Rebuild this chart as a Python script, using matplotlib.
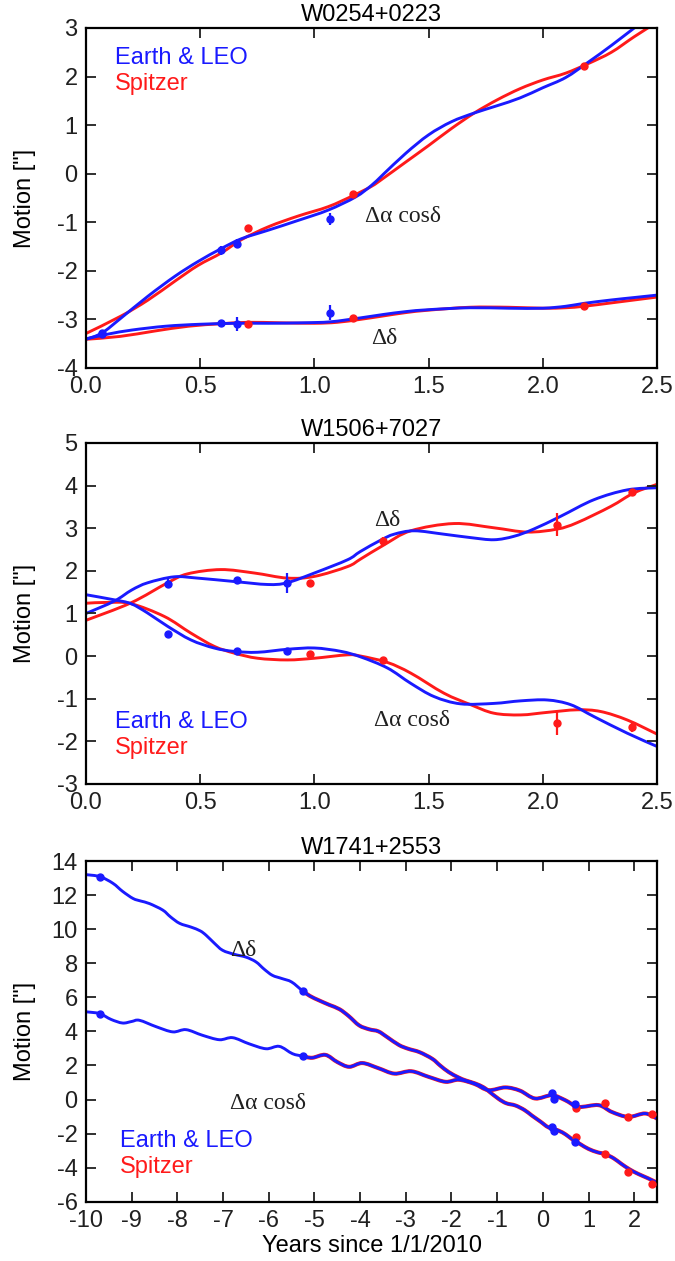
import numpy as np
import matplotlib
matplotlib.use("Agg")
import matplotlib.pyplot as plt
from matplotlib.path import Path
from matplotlib.patches import PathPatch

# ---- W0254+0223 -------------------------------------------------------------
w0254_blue_ra_t = [0.0, 0.07, 0.154, 0.272, 0.39, 0.49, 0.593, 0.68, 0.8, 0.93, 1.06, 1.18,
                   1.25, 1.3, 1.4, 1.5, 1.6, 1.7, 1.8, 1.9, 2.0, 2.1, 2.2, 2.3, 2.4, 2.5]
w0254_blue_ra = [-3.41, -3.28, -2.97, -2.52, -2.11, -1.81, -1.54, -1.34, -1.16, -0.96, -0.75, -0.48,
                 -0.24, -0.02, 0.42, 0.80, 1.07, 1.25, 1.40, 1.56, 1.77, 1.98, 2.30, 2.64, 3.0, 3.35]
w0254_red_ra_t = [0.0, 0.154, 0.272, 0.39, 0.49, 0.593, 0.68, 0.8, 0.93, 1.06, 1.17, 1.25,
                  1.3, 1.4, 1.5, 1.6, 1.7, 1.8, 1.9, 2.0, 2.1, 2.2, 2.3, 2.4, 2.5]
w0254_red_ra = [-3.29, -2.93, -2.60, -2.21, -1.89, -1.63, -1.36, -1.09, -0.87, -0.68, -0.45, -0.26,
                -0.10, 0.24, 0.58, 0.93, 1.25, 1.52, 1.75, 1.93, 2.07, 2.27, 2.50, 2.82, 3.12]
w0254_blue_dec_t = [0.0, 0.1, 0.2, 0.35, 0.5, 0.66, 0.8, 0.95, 1.07, 1.2, 1.3, 1.4, 1.5,
                    1.68, 1.85, 2.0, 2.1, 2.18, 2.3, 2.4, 2.5]
w0254_blue_dec = [-3.40, -3.30, -3.22, -3.14, -3.10, -3.08, -3.08, -3.07, -3.05, -2.97, -2.90, -2.84,
                  -2.80, -2.76, -2.77, -2.77, -2.73, -2.67, -2.60, -2.55, -2.50]
w0254_red_dec_t = [0.0, 0.15, 0.3, 0.45, 0.59, 0.71, 0.85, 1.0, 1.1, 1.2, 1.3, 1.4, 1.5,
                   1.68, 1.85, 2.0, 2.1, 2.18, 2.3, 2.4, 2.5]
w0254_red_dec = [-3.41, -3.35, -3.24, -3.14, -3.09, -3.06, -3.07, -3.08, -3.06, -3.00, -2.93, -2.86,
                 -2.81, -2.75, -2.75, -2.77, -2.76, -2.73, -2.66, -2.60, -2.54]

w0254_blue_pt_t = [0.07, 0.59, 0.66, 1.07]
w0254_blue_pt_ra = [-3.28, -1.58, -1.44, -0.93]
w0254_blue_pt_ra_err = [0.05, 0.09, 0.10, 0.13]
w0254_blue_pt_dec = [-3.30, -3.07, -3.10, -2.86]
w0254_blue_pt_dec_err = [0.05, 0.04, 0.14, 0.16]
w0254_red_pt_t = [0.71, 1.17, 2.18]
w0254_red_pt_ra = [-1.12, -0.42, 2.22]
w0254_red_pt_ra_err = [0.07, 0.04, 0.04]
w0254_red_pt_dec = [-3.10, -2.97, -2.73]
w0254_red_pt_dec_err = [0.04, 0.04, 0.04]

# ---- W1506+7027 -------------------------------------------------------------
w1506_blue_dec_t = [0.0, 0.124, 0.2, 0.27, 0.386, 0.488, 0.649, 0.795, 0.88, 1.0, 1.145, 1.2,
                    1.29, 1.349, 1.437, 1.567, 1.684, 1.786, 1.873, 1.96, 2.078, 2.224, 2.37, 2.5]
w1506_blue_dec = [1.00, 1.29, 1.55, 1.72, 1.86, 1.83, 1.75, 1.68, 1.72, 1.95, 2.26, 2.45,
                  2.72, 2.86, 2.94, 2.86, 2.78, 2.73, 2.81, 2.98, 3.28, 3.67, 3.90, 3.95]
w1506_red_dec_t = [0.0, 0.197, 0.357, 0.445, 0.59, 0.736, 0.882, 1.0, 1.145, 1.203, 1.305, 1.422,
                   1.611, 1.786, 1.932, 2.063, 2.15, 2.297, 2.399, 2.5]
w1506_red_dec = [0.84, 1.25, 1.72, 1.93, 2.03, 1.95, 1.83, 1.87, 2.10, 2.28, 2.61, 2.94,
                 3.11, 3.01, 2.91, 2.98, 3.13, 3.51, 3.83, 4.03]
w1506_blue_ra_t = [0.0, 0.124, 0.197, 0.27, 0.357, 0.459, 0.561, 0.649, 0.751, 0.882, 1.0, 1.117,
                   1.203, 1.32, 1.422, 1.524, 1.64, 1.786, 1.903, 2.02, 2.122, 2.224, 2.37, 2.5]
w1506_blue_ra = [1.44, 1.32, 1.23, 1.01, 0.70, 0.38, 0.19, 0.11, 0.09, 0.16, 0.19, 0.11,
                 -0.02, -0.28, -0.64, -0.95, -1.12, -1.11, -1.05, -1.03, -1.14, -1.42, -1.81, -2.12]
w1506_red_ra_t = [0.0, 0.095, 0.197, 0.343, 0.459, 0.561, 0.649, 0.751, 0.882, 1.0, 1.145, 1.203,
                  1.32, 1.422, 1.567, 1.684, 1.786, 1.903, 2.02, 2.15, 2.253, 2.37, 2.5]
w1506_red_ra = [1.24, 1.26, 1.23, 0.93, 0.54, 0.23, 0.07, -0.05, -0.09, -0.05, 0.03, 0.0,
                -0.15, -0.40, -0.87, -1.14, -1.34, -1.38, -1.32, -1.26, -1.30, -1.50, -1.83]

w1506_blue_pt_t = [0.36, 0.66, 0.88]
w1506_blue_pt_dec = [1.70, 1.79, 1.72]
w1506_blue_pt_dec_err = [0.10, 0.06, 0.23]
w1506_blue_pt_ra = [0.52, 0.13, 0.12]
w1506_blue_pt_ra_err = [0.05, 0.05, 0.08]
w1506_red_pt_t = [0.98, 1.30, 2.06, 2.39]
w1506_red_pt_dec = [1.72, 2.71, 3.08, 3.85]
w1506_red_pt_dec_err = [0.04, 0.08, 0.27, 0.08]
w1506_red_pt_ra = [0.04, -0.09, -1.58, -1.67]
w1506_red_pt_ra_err = [0.05, 0.05, 0.28, 0.10]

# ---- W1741+2553 -------------------------------------------------------------
w1741_dec_t = [-10.0, -9.69, -9.41, -9.2, -8.97, -8.8, -8.61, -8.32, -8.15, -7.95, -7.7, -7.5,
               -7.37, -7.2, -7.01, -6.75, -6.5, -6.28, -6.1, -5.92, -5.71, -5.5, -5.26, -5.1,
               -4.9, -4.67, -4.45, -4.25, -4.02, -3.8, -3.6, -3.4, -3.15, -2.95, -2.7, -2.42,
               -2.25, -2.06, -1.85, -1.69, -1.48, -1.3, -1.19, -0.97, -0.8, -0.6, -0.4, -0.24,
               -0.05, 0.12, 0.34, 0.5, 0.63, 0.82, 1.0, 1.2, 1.36, 1.55, 1.72, 1.9, 2.09, 2.3, 2.5]
w1741_dec = [13.20, 13.08, 12.69, 12.22, 11.80, 11.65, 11.50, 11.12, 10.72, 10.34, 10.12, 9.90,
             9.64, 9.20, 8.76, 8.52, 8.36, 8.08, 7.65, 7.29, 7.10, 6.90, 6.38, 6.08,
             5.82, 5.55, 5.30, 4.90, 4.35, 4.12, 4.00, 3.65, 3.20, 2.98, 2.78, 2.39,
             2.00, 1.61, 1.30, 1.12, 0.94, 0.72, 0.50, 0.04, -0.22, -0.35, -0.62, -0.94,
             -1.30, -1.63, -1.82, -2.05, -2.31, -2.62, -2.90, -3.10, -3.20, -3.45, -3.78, -4.10,
             -4.37, -4.62, -4.88]
w1741_ra_t = [-10.0, -9.7, -9.45, -9.2, -9.0, -8.83, -8.46, -8.1, -7.81, -7.45, -7.08, -6.79,
              -6.43, -6.06, -5.77, -5.48, -5.26, -5.05, -4.76, -4.5, -4.24, -3.95, -3.6, -3.25,
              -2.88, -2.5, -2.13, -1.84, -1.5, -1.19, -0.82, -0.5, -0.17, 0.2, 0.49, 0.78,
              1.22, 1.51, 1.87, 2.24, 2.5]
w1741_ra = [5.15, 5.04, 4.70, 4.49, 4.58, 4.65, 4.27, 3.97, 4.10, 3.77, 3.51, 3.63,
            3.27, 2.98, 3.12, 2.69, 2.55, 2.45, 2.62, 2.20, 1.92, 2.14, 1.84, 1.52,
            1.66, 1.33, 1.04, 1.16, 0.92, 0.55, 0.71, 0.52, 0.06, 0.25, -0.04, -0.43,
            -0.33, -0.73, -1.02, -0.82, -1.12]
w1741_red_start = -5.3   # Spitzer model only visible from here on

w1741_blue_pt_t = [-9.69, -5.26, 0.20, 0.25, 0.70]
w1741_blue_pt_dec = [13.08, 6.35, -1.62, -1.85, -2.50]
w1741_blue_pt_ra = [5.02, 2.55, 0.38, 0.05, -0.28]
w1741_blue_pt_err = [0.15, 0.15, 0.15, 0.15, 0.15]
w1741_red_pt_t = [0.72, 1.37, 1.87, 2.38]
w1741_red_pt_dec = [-2.20, -3.20, -4.25, -4.95]
w1741_red_pt_ra = [-0.47, -0.20, -1.05, -0.87]
w1741_red_pt_err = [0.12, 0.12, 0.12, 0.12]

BLUE = (0.1, 0.1, 1.0)
RED = (1.0, 0.1, 0.1)
SANS = ['Liberation Sans', 'DejaVu Sans']
SERIF = ['Liberation Serif', 'DejaVu Serif']
FS = 17

plt.rcParams['font.family'] = SANS
plt.rcParams['axes.unicode_minus'] = False


def style_axes(ax, title):
    ax.set_title(title, fontsize=FS, pad=5)
    ax.set_ylabel('Motion ["]', fontsize=FS)
    ax.yaxis.set_label_coords(-0.088, 0.5)
    ax.tick_params(direction='in', length=7.5, width=1.3, labelsize=FS,
                   top=True, right=True, pad=6, colors='#202020')
    for s in ax.spines.values():
        s.set_linewidth(1.6)


def curve(ax, t, v, color, lw=2.1):
    # smooth line through the read-off points (Catmull-Rom as cubic Bezier segments)
    p = np.column_stack([t, v]).astype(float)
    n = len(p)
    verts = [p[0]]
    codes = [Path.MOVETO]
    for i in range(n - 1):
        p0 = p[i - 1] if i > 0 else p[i]
        p3 = p[i + 2] if i + 2 < n else p[i + 1]
        verts += [p[i] + (p[i + 1] - p0) / 6.0, p[i + 1] - (p3 - p[i]) / 6.0, p[i + 1]]
        codes += [Path.CURVE4] * 3
    ax.add_patch(PathPatch(Path(verts, codes), fill=False, edgecolor=color, lw=lw,
                           capstyle='round', joinstyle='round'))


def points(ax, t, v, err, color):
    ax.errorbar(t, v, yerr=err, fmt='o', ms=5, color=color, elinewidth=1.6,
                capsize=0, zorder=5)


def legend_text(ax, x, y):
    ax.text(x, y, 'Earth & LEO', color=BLUE, fontsize=FS, transform=ax.transAxes)
    ax.text(x, y - 0.077, 'Spitzer', color=RED, fontsize=FS, transform=ax.transAxes)


def label(ax, x, y, s):
    ax.text(x, y, s, fontsize=FS, family=SERIF, color='#202020')


fig = plt.figure(figsize=(6.75, 12.61), dpi=100)
ax1 = fig.add_axes([0.1274, 0.7082, 0.846, 0.2696])
ax2 = fig.add_axes([0.1274, 0.3783, 0.846, 0.2704])
ax3 = fig.add_axes([0.1274, 0.0470, 0.846, 0.2702])

# panel 1
curve(ax1, w0254_red_ra_t, w0254_red_ra, RED)
curve(ax1, w0254_red_dec_t, w0254_red_dec, RED)
curve(ax1, w0254_blue_ra_t, w0254_blue_ra, BLUE)
curve(ax1, w0254_blue_dec_t, w0254_blue_dec, BLUE)
points(ax1, w0254_red_pt_t, w0254_red_pt_ra, w0254_red_pt_ra_err, RED)
points(ax1, w0254_red_pt_t, w0254_red_pt_dec, w0254_red_pt_dec_err, RED)
points(ax1, w0254_blue_pt_t, w0254_blue_pt_ra, w0254_blue_pt_ra_err, BLUE)
points(ax1, w0254_blue_pt_t, w0254_blue_pt_dec, w0254_blue_pt_dec_err, BLUE)
ax1.set_xlim(0, 2.5)
ax1.set_ylim(-4, 3)
ax1.set_xticks(np.arange(0, 2.51, 0.5))
ax1.set_xticklabels(['%.1f' % v for v in np.arange(0, 2.51, 0.5)])
ax1.set_yticks(range(-4, 4))
label(ax1, 1.22, -1.0, 'Δα cosδ')
label(ax1, 1.25, -3.5, 'Δδ')
legend_text(ax1, 0.05, 0.895)
style_axes(ax1, 'W0254+0223')

# panel 2
curve(ax2, w1506_red_dec_t, w1506_red_dec, RED)
curve(ax2, w1506_red_ra_t, w1506_red_ra, RED)
curve(ax2, w1506_blue_dec_t, w1506_blue_dec, BLUE)
curve(ax2, w1506_blue_ra_t, w1506_blue_ra, BLUE)
points(ax2, w1506_red_pt_t, w1506_red_pt_dec, w1506_red_pt_dec_err, RED)
points(ax2, w1506_red_pt_t, w1506_red_pt_ra, w1506_red_pt_ra_err, RED)
points(ax2, w1506_blue_pt_t, w1506_blue_pt_dec, w1506_blue_pt_dec_err, BLUE)
points(ax2, w1506_blue_pt_t, w1506_blue_pt_ra, w1506_blue_pt_ra_err, BLUE)
ax2.set_xlim(0, 2.5)
ax2.set_ylim(-3, 5)
ax2.set_xticks(np.arange(0, 2.51, 0.5))
ax2.set_xticklabels(['%.1f' % v for v in np.arange(0, 2.51, 0.5)])
ax2.set_yticks(range(-3, 6))
label(ax2, 1.26, 3.05, 'Δδ')
label(ax2, 1.26, -1.65, 'Δα cosδ')
legend_text(ax2, 0.05, 0.165)
style_axes(ax2, 'W1506+7027')

# panel 3
dec_t = np.array(w1741_dec_t)
ra_t = np.array(w1741_ra_t)
m_dec = dec_t >= w1741_red_start
m_ra = ra_t >= w1741_red_start
curve(ax3, dec_t[m_dec], np.array(w1741_dec)[m_dec], RED, lw=2.9)
curve(ax3, ra_t[m_ra], np.array(w1741_ra)[m_ra], RED, lw=2.9)
curve(ax3, w1741_dec_t, w1741_dec, BLUE)
curve(ax3, w1741_ra_t, w1741_ra, BLUE)
points(ax3, w1741_red_pt_t, w1741_red_pt_dec, w1741_red_pt_err, RED)
points(ax3, w1741_red_pt_t, w1741_red_pt_ra, w1741_red_pt_err, RED)
points(ax3, w1741_blue_pt_t, w1741_blue_pt_dec, w1741_blue_pt_err, BLUE)
points(ax3, w1741_blue_pt_t, w1741_blue_pt_ra, w1741_blue_pt_err, BLUE)
ax3.set_xlim(-10, 2.5)
ax3.set_ylim(-6, 14)
ax3.set_xticks(range(-10, 3))
ax3.set_yticks(range(-6, 15, 2))
label(ax3, -6.85, 8.4, 'Δδ')
label(ax3, -6.85, -0.55, 'Δα cosδ')
legend_text(ax3, 0.06, 0.16)
ax3.set_xlabel('Years since 1/1/2010', fontsize=FS, labelpad=2)
style_axes(ax3, 'W1741+2553')

fig.savefig('out.png', dpi=100)
